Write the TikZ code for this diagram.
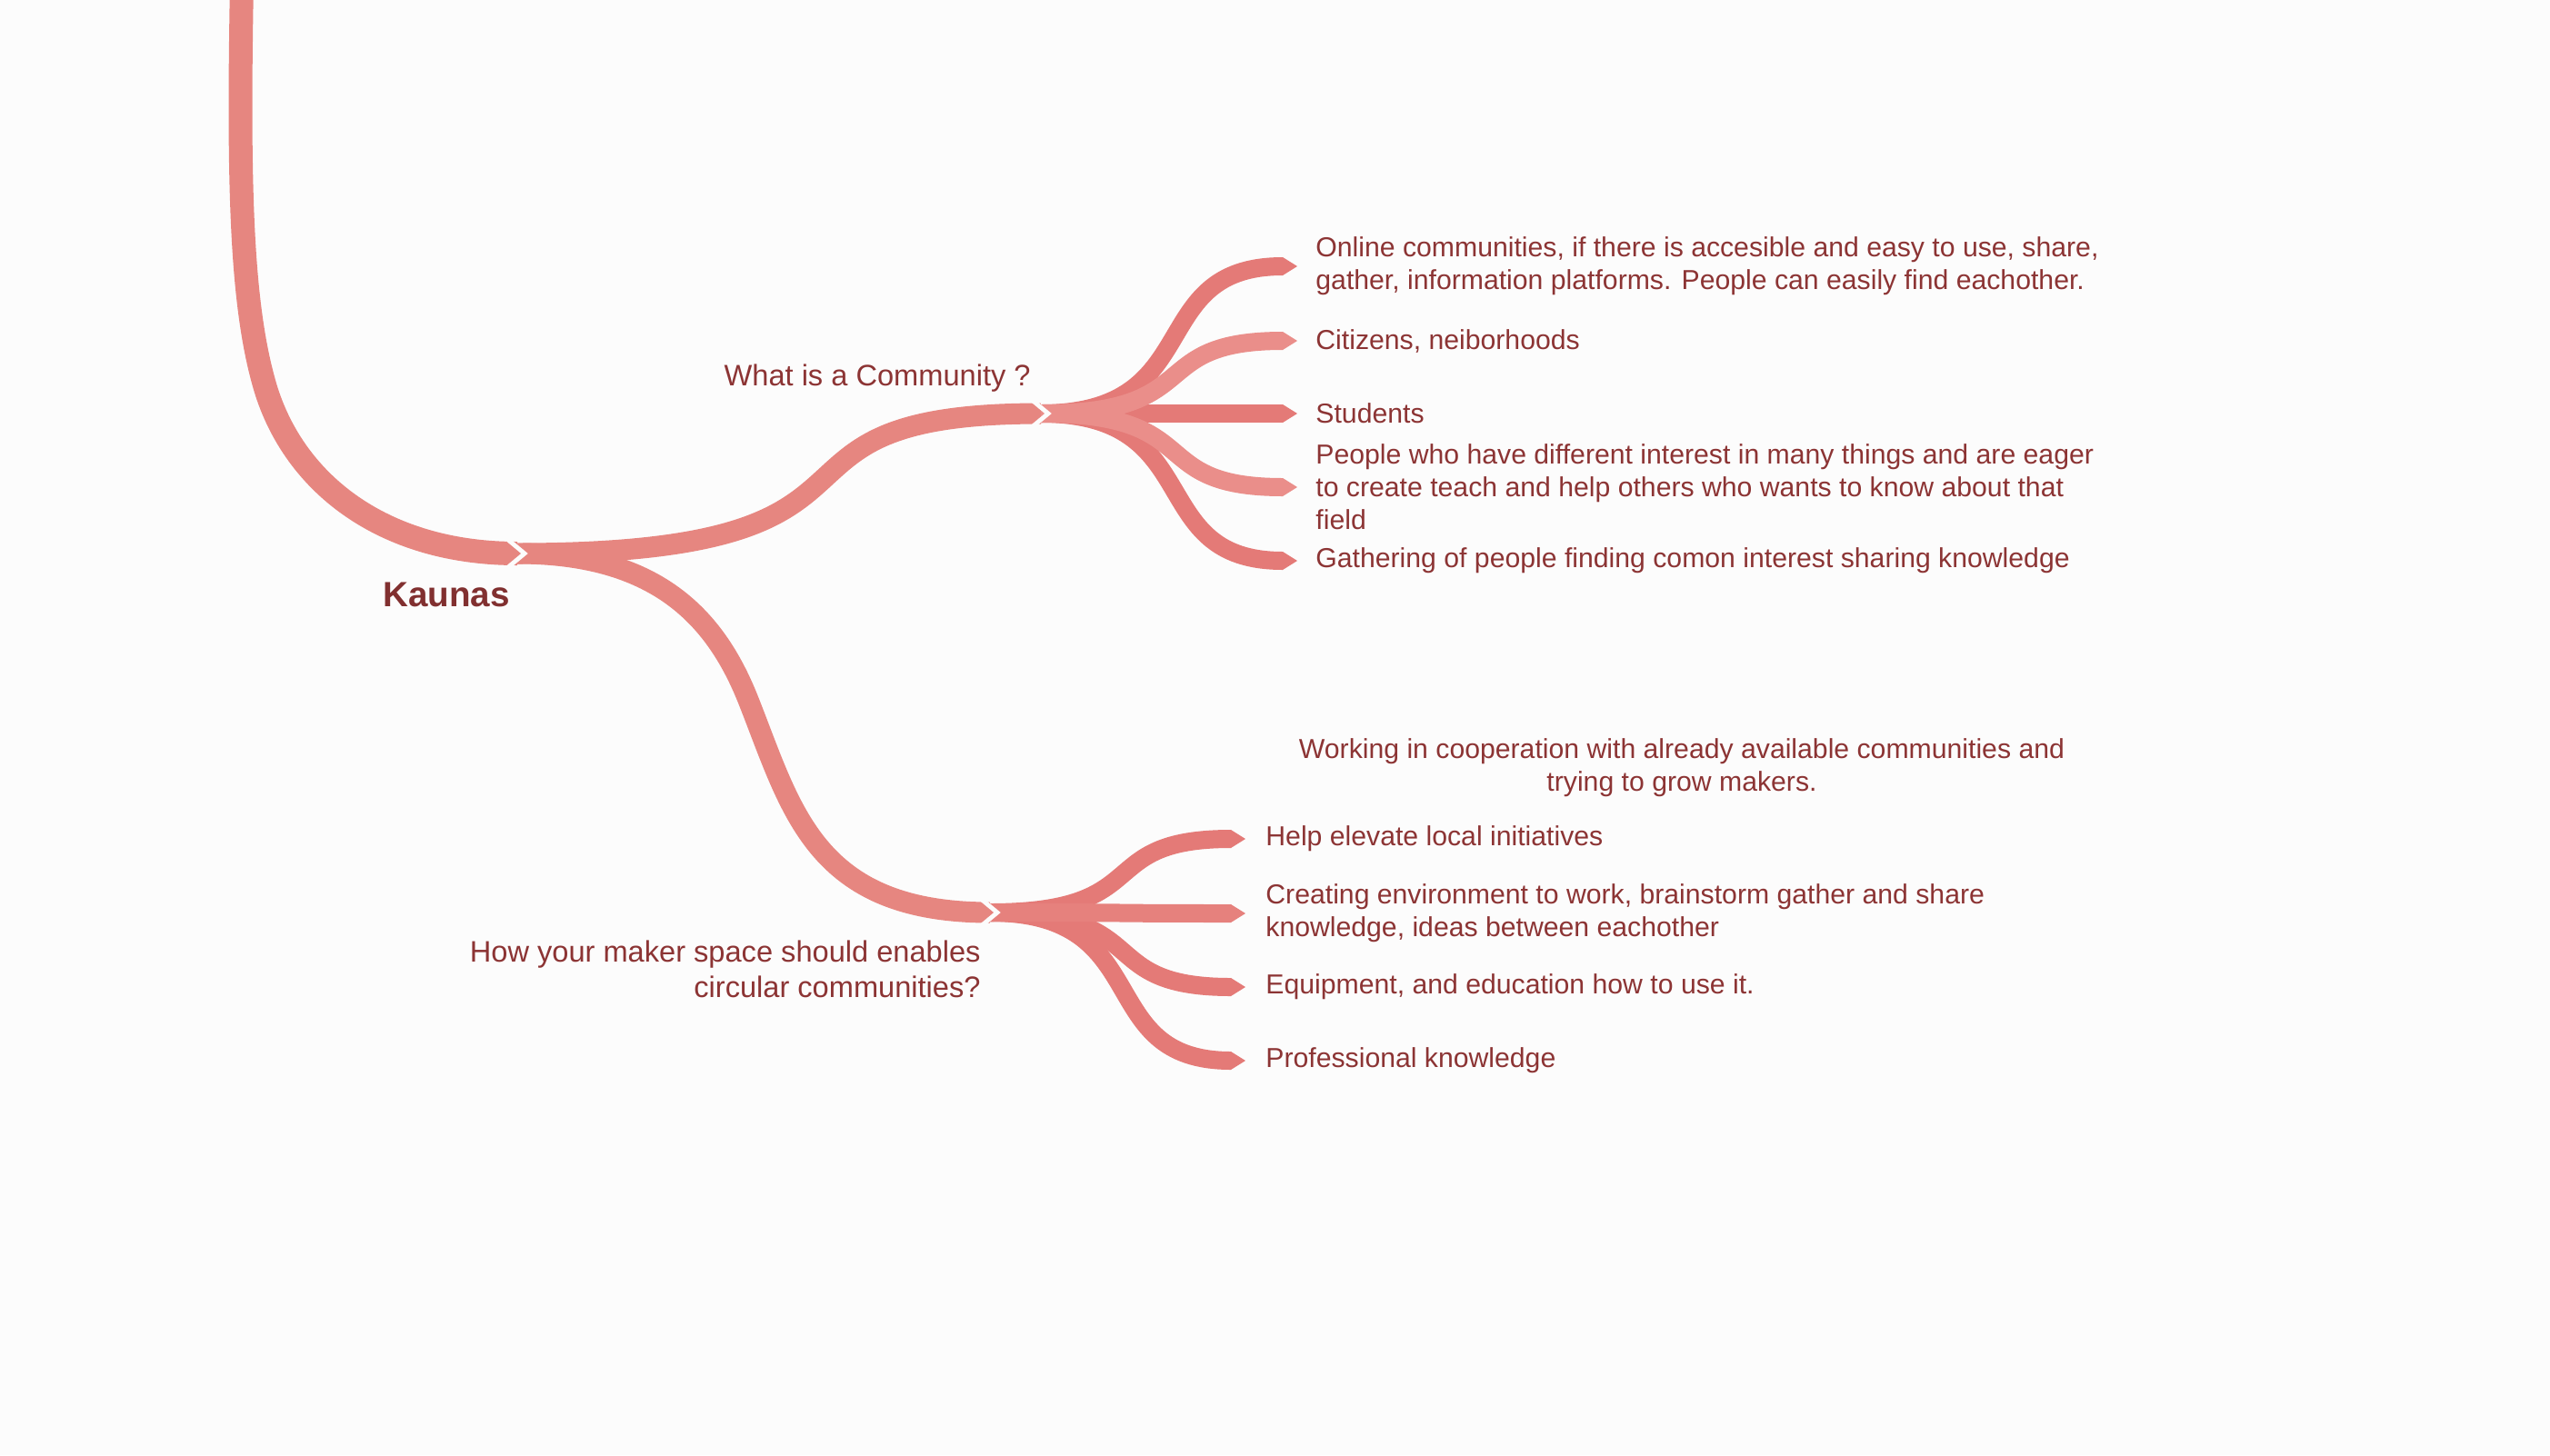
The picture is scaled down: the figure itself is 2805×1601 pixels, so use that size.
\documentclass[tikz,border=0pt]{standalone}
\usepackage{fontspec}
\setmainfont{Liberation Sans}
\usetikzlibrary{arrows.meta,positioning}
\definecolor{paper}{RGB}{252,252,252}
\definecolor{trunkred}{RGB}{230,134,128}
\definecolor{deepred}{RGB}{228,122,119}
\definecolor{softred}{RGB}{234,142,138}
\definecolor{midred}{RGB}{230,129,125}
\definecolor{ink}{RGB}{140,52,52}
\tikzset{
    %Define style for the branches
    trunk/.style={
           draw=trunkred,
           line width=13pt},
    topic/.style={
           draw=trunkred,
           line width=11.5pt},
    twig/.style={
           draw=#1,
           line width=10pt,
           -{Triangle[width=10pt,length=8pt,line width=0pt]}},
    % Define the white cut between two branches
    notchcut/.style={
           draw=paper,
           line width=2.4pt},
    %Define style for texts
    central/.style={
           inner sep=0pt,
           text=ink!92!black,
           font=\bfseries\fontsize{19.3}{23}\selectfont},
    question/.style={
           inner sep=0pt,
           text=ink,
           font=\fontsize{16.3}{19.5}\selectfont},
    leaf/.style={
           anchor=west,
           align=left,
           inner sep=0pt,
           text=ink,
           font=\fontsize{15.1}{18}\selectfont}
}
\begin{document}
\begin{tikzpicture}[x=0.5pt,y=-0.5pt]
\useasboundingbox (0,0) rectangle (2805,1601);
\fill[paper] (0,0) rectangle (2805,1601);
% hubs and ends of the branches
\coordinate (trunk-top) at (266,-20);
\coordinate (kaunas-hub) at (569,609);
\coordinate (community-hub) at (1145,455);
\coordinate (maker-hub) at (1089,1004);
\foreach \name/\y in {online/293,citizens/375,students/455,people/536,gathering/617}
    \coordinate (\name-tip) at (1427,\y);
\foreach \name/\y in {help/923,creating/1005,equipment/1086,professional/1167}
    \coordinate (\name-tip) at (1370,\y);
% branches
\draw[trunk] (trunk-top) .. controls (262,200) and (265,330) .. (290,420)
    .. controls (320,530) and (420,609) .. (kaunas-hub);
\draw[topic] (kaunas-hub) .. controls +(462,0) and +(-347,0) .. (community-hub);
\draw[topic] (kaunas-hub) .. controls +(151,0) and (786,677) .. (823,770)
    .. controls (871,891) and +(-194,0) .. (maker-hub);
\foreach \name/\col in {online/deepred,students/deepred,gathering/deepred,citizens/softred,people/softred}
    \draw[twig=\col] (community-hub) .. controls +(185,0) and +(-170,0) .. (\name-tip);
\foreach \name/\col in {help/deepred,equipment/deepred,professional/deepred,creating/midred}
    \draw[twig=\col] (maker-hub) .. controls +(185,0) and +(-170,0) .. (\name-tip);
\foreach \hub in {kaunas-hub,community-hub,maker-hub}
    \draw[notchcut] ([shift={(-10,-15)}]\hub) -- ([shift={(8,0)}]\hub) -- ([shift={(-10,15)}]\hub);
% texts
\node[central] (kaunas) at (491,654) {Kaunas};
\node[question, anchor=east] (community) at (1134,416) {What is a Community ?};
\node[question, anchor=east, align=right] (makerspace) at (1079,1066)
    {How your maker space should enables\\circular communities?};
\node[leaf, right=10pt of online-tip] (online)
    {Online communities, if there is accesible and easy to use, share,\\gather, information platforms. People can easily find eachother.};
\node[leaf, right=10pt of citizens-tip] (citizens) {Citizens, neiborhoods};
\node[leaf, right=10pt of students-tip] (students) {Students};
\node[leaf, right=10pt of people-tip] (people)
    {People who have different interest in many things and are eager\\to create teach and help others who wants to know about that\\field};
\node[leaf, right=10pt of gathering-tip] (gathering) {Gathering of people finding comon interest sharing knowledge};
\node[leaf, anchor=center, align=center] (cooperation) at (1850,845)
    {Working in cooperation with already available communities and\\trying to grow makers.};
\node[leaf, right=11pt of help-tip] (help) {Help elevate local initiatives};
\node[leaf, right=11pt of creating-tip] (creating)
    {Creating environment to work, brainstorm gather and share\\knowledge, ideas between eachother};
\node[leaf, right=11pt of equipment-tip] (equipment) {Equipment, and education how to use it.};
\node[leaf, right=11pt of professional-tip] (professional) {Professional knowledge};
\end{tikzpicture}
\end{document}
